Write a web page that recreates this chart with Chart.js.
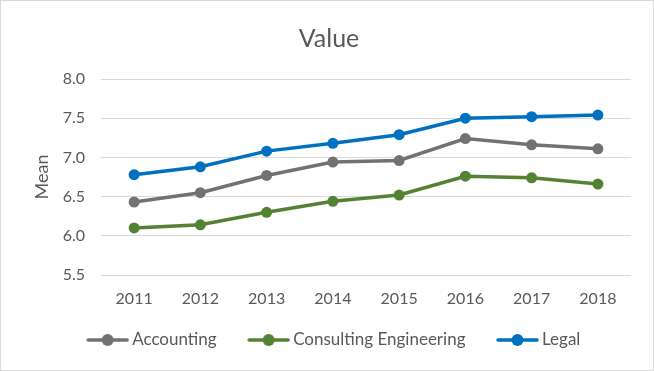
<!DOCTYPE html>
<html><head><meta charset="utf-8">
<script src="https://cdn.jsdelivr.net/npm/chart.js@4"></script>
<style>
html,body{margin:0;padding:0;background:#fff;}
#wrap{width:654px;height:371px;box-sizing:border-box;border:1px solid #d9d9d9;position:relative;}
</style></head><body>
<div id="wrap"><canvas id="c" width="652" height="369"></canvas></div>
<script>
const categories = ['2011','2012','2013','2014','2015','2016','2017','2018'];
const accounting = [6.43, 6.55, 6.77, 6.94, 6.96, 7.24, 7.16, 7.11];
const consulting = [6.10, 6.14, 6.30, 6.44, 6.52, 6.76, 6.74, 6.66];
const legal = [6.78, 6.88, 7.08, 7.18, 7.29, 7.50, 7.52, 7.54];
const seriesNames = ['Accounting', 'Consulting Engineering', 'Legal'];
const colors = ['#767171', '#548235', '#0070C0'];
const FONT = 'Lato, "Open Sans", sans-serif';

const BLANK = 14;
const ICON_W = 43 + BLANK;
function legendIcon(color){
  const cv = document.createElement('canvas');
  cv.width = ICON_W; cv.height = 14;
  const g = cv.getContext('2d');
  g.translate(BLANK, 0);
  g.strokeStyle = color; g.lineWidth = 3.5; g.lineCap = 'round';
  g.beginPath(); g.moveTo(2,7); g.lineTo(41,7); g.stroke();
  g.fillStyle = color; g.beginPath(); g.arc(21.5,7,6,0,Math.PI*2); g.fill();
  return cv;
}
const icons = colors.map(legendIcon);

const mk = (label, data, color) => ({
  label, data, borderColor: color, backgroundColor: color,
  borderWidth: 3.5, pointRadius: 5.5, pointHoverRadius: 5.5, pointBorderWidth: 0,
  pointBackgroundColor: color, pointBorderColor: color, tension: 0
});

new Chart(document.getElementById('c'), {
  type: 'line',
  data: {
    labels: categories,
    datasets: [mk(seriesNames[0], accounting, colors[0]), mk(seriesNames[1], consulting, colors[1]), mk(seriesNames[2], legal, colors[2])]
  },
  options: {
    responsive: false, animation: false,
    layout: { padding: { left: 26, right: 22, top: 14, bottom: 11.5 } },
    plugins: {
      title: { display: true, text: 'Value', color: '#595959', font: { family: FONT, size: 25, weight: 'normal' }, padding: { top: 9, bottom: 25 } },
      legend: {
        position: 'bottom',
        labels: {
          color: '#595959', font: { family: FONT, size: 17 },
          usePointStyle: true, pointStyleWidth: ICON_W - 11, boxHeight: 17, padding: 22,
          generateLabels: (chart) => chart.data.datasets.map((d, i) => ({
            text: d.label, fillStyle: d.borderColor, strokeStyle: d.borderColor,
            pointStyle: icons[i], datasetIndex: i, fontColor: '#595959', lineWidth: 0
          }))
        }
      },
      tooltip: { enabled: false }
    },
    scales: {
      x: {
        offset: true,
        grid: { display: false },
        border: { display: false },
        ticks: { color: '#595959', font: { family: FONT, size: 16 }, padding: 6 },
        afterFit: (s) => { s.height = 34.5; }
      },
      y: {
        min: 5.5, max: 8.0,
        ticks: { stepSize: 0.5, color: '#595959', font: { family: FONT, size: 16 }, padding: 16, callback: v => v.toFixed(1) },
        grid: { color: '#d9d9d9', lineWidth: 1, drawTicks: false },
        border: { display: false },
        title: { display: true, text: 'Mean', color: '#595959', font: { family: FONT, size: 18 }, padding: 4 },
        afterFit: (s) => { s.width = 74; }
      }
    }
  }
});
</script>
</body></html>
